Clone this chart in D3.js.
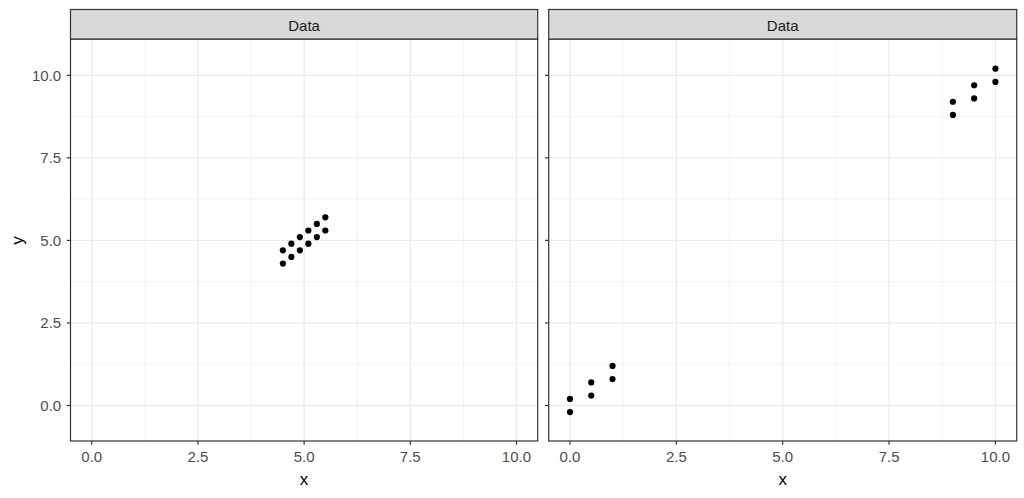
<!DOCTYPE html>
<html><head><meta charset="utf-8">
<script src="https://cdn.jsdelivr.net/npm/d3@7"></script>
<style>body{margin:0;background:#fff}svg{display:block;font-family:"Liberation Sans",Arial,sans-serif}</style>
</head><body><svg id="c" width="1024" height="498"></svg>
<script>
const panelTitles = ["Data", "Data"];
const leftX = [4.5, 4.5, 4.7, 4.7, 4.9, 4.9, 5.1, 5.1, 5.3, 5.3, 5.5, 5.5];
const leftY = [4.3, 4.7, 4.5, 4.9, 4.7, 5.1, 4.9, 5.3, 5.1, 5.5, 5.3, 5.7];
const rightX = [0, 0, 0.5, 0.5, 1, 1, 9, 9, 9.5, 9.5, 10, 10];
const rightY = [-0.2, 0.2, 0.3, 0.7, 0.8, 1.2, 8.8, 9.2, 9.3, 9.7, 9.8, 10.2];
const xTicks = [0, 2.5, 5, 7.5, 10];
const yTicks = [0, 2.5, 5, 7.5, 10];
const xMinor = [1.25, 3.75, 6.25, 8.75];
const yMinor = [1.25, 3.75, 6.25, 8.75];
const xTitle = "x", yTitle = "y";

const svg = d3.select("#c");
const panels = [
  {x0: 70.5, x1: 537.7, xs: leftX, ys: leftY, showY: true},
  {x0: 548.7, x1: 1016.7, xs: rightX, ys: rightY, showY: false}
];
const stripTop = 9.5, stripBot = 39, panelBot = 441;
const y = d3.scaleLinear().domain([-1.075, 11.1]).range([panelBot, stripBot]);
const fmt = d3.format(".1f");

panels.forEach((p, i) => {
  const x = d3.scaleLinear().domain([-0.5, 10.5]).range([p.x0, p.x1]);
  const g = svg.append("g");
  g.selectAll(".mx").data(xMinor).join("line")
    .attr("x1", d => x(d)).attr("x2", d => x(d)).attr("y1", stripBot).attr("y2", panelBot)
    .attr("stroke", "#ebebeb").attr("stroke-width", 0.6);
  g.selectAll(".my").data(yMinor).join("line")
    .attr("y1", d => y(d)).attr("y2", d => y(d)).attr("x1", p.x0).attr("x2", p.x1)
    .attr("stroke", "#ebebeb").attr("stroke-width", 0.6);
  g.selectAll(".gx").data(xTicks).join("line")
    .attr("x1", d => x(d)).attr("x2", d => x(d)).attr("y1", stripBot).attr("y2", panelBot)
    .attr("stroke", "#ebebeb").attr("stroke-width", 1.3);
  g.selectAll(".gy").data(yTicks).join("line")
    .attr("y1", d => y(d)).attr("y2", d => y(d)).attr("x1", p.x0).attr("x2", p.x1)
    .attr("stroke", "#ebebeb").attr("stroke-width", 1.3);
  g.selectAll("circle").data(p.xs.map((v, k) => [v, p.ys[k]])).join("circle")
    .attr("cx", d => x(d[0])).attr("cy", d => y(d[1])).attr("r", 3.1).attr("fill", "#000");
  g.append("rect").attr("x", p.x0).attr("y", stripBot).attr("width", p.x1 - p.x0).attr("height", panelBot - stripBot)
    .attr("fill", "none").attr("stroke", "#333").attr("stroke-width", 1.2);
  g.append("rect").attr("x", p.x0).attr("y", stripTop).attr("width", p.x1 - p.x0).attr("height", stripBot - stripTop)
    .attr("fill", "#d9d9d9").attr("stroke", "#333").attr("stroke-width", 1.2);
  g.append("text").attr("x", (p.x0 + p.x1) / 2).attr("y", 30.5)
    .attr("text-anchor", "middle").attr("font-size", 15).attr("fill", "#1a1a1a").text(panelTitles[i]);
  g.selectAll(".xt").data(xTicks).join("line")
    .attr("x1", d => x(d)).attr("x2", d => x(d)).attr("y1", panelBot).attr("y2", panelBot + 3.7)
    .attr("stroke", "#333").attr("stroke-width", 1.2);
  g.selectAll(".xl").data(xTicks).join("text")
    .attr("x", d => x(d)).attr("y", panelBot + 21.3).attr("text-anchor", "middle")
    .attr("font-size", 15).attr("fill", "#4d4d4d").text(d => fmt(d));
  g.selectAll(".yt").data(yTicks).join("line")
    .attr("x1", p.x0 - 3.7).attr("x2", p.x0).attr("y1", d => y(d)).attr("y2", d => y(d))
    .attr("stroke", "#333").attr("stroke-width", 1.2);
  if (p.showY) {
    g.selectAll(".yl").data(yTicks).join("text")
      .attr("x", p.x0 - 9.3).attr("y", d => y(d) + 5.5).attr("text-anchor", "end")
      .attr("font-size", 15).attr("fill", "#4d4d4d").text(d => fmt(d));
  }
  svg.append("text").attr("x", (p.x0 + p.x1) / 2).attr("y", 485).attr("text-anchor", "middle")
    .attr("font-size", 17).attr("fill", "#000").text(xTitle);
});
svg.append("text").attr("transform", `translate(23,${y(5)}) rotate(-90)`).attr("text-anchor", "middle")
  .attr("font-size", 17).attr("fill", "#000").text(yTitle);
</script></body></html>
